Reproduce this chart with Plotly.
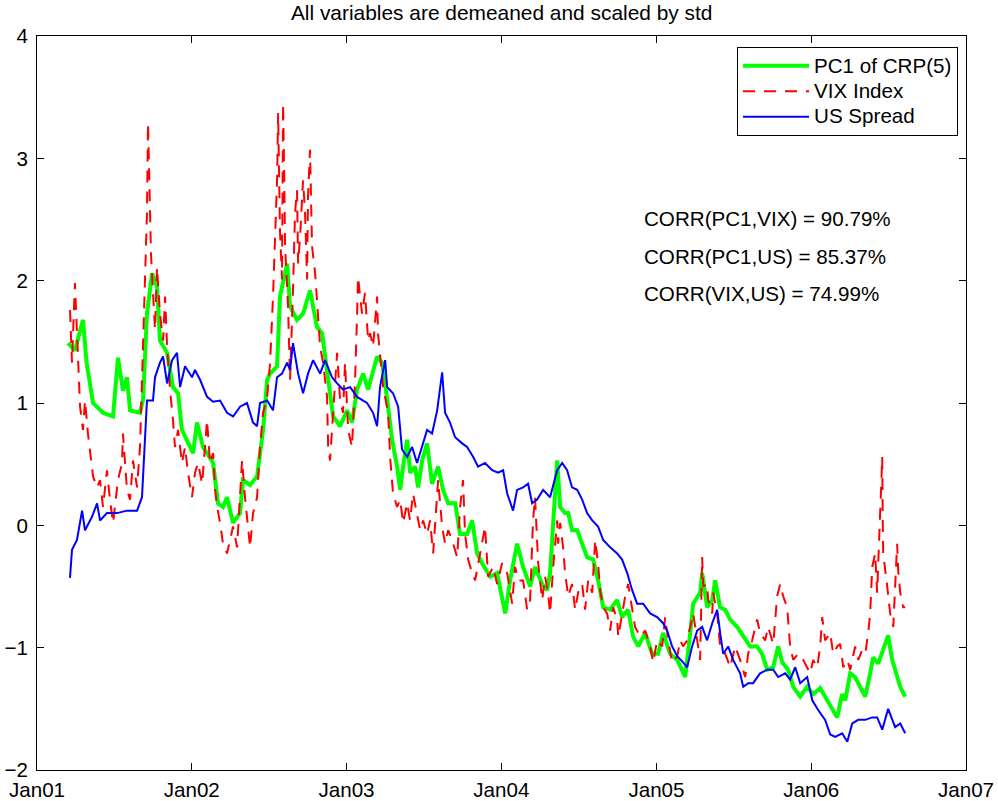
import numpy as np
import pandas as pd
import plotly.graph_objects as go

# ---------------- data (time in years since 1 Jan 2001) ----------------
pc1_t = [0.200, 0.245, 0.297, 0.320, 0.362, 0.426, 0.491, 0.523, 0.555, 0.581, 0.601, 0.665, 0.685,
         0.710, 0.743, 0.775, 0.794, 0.840, 0.878, 0.911, 0.936, 0.969, 1.008, 1.033, 1.072, 1.137,
         1.169, 1.201, 1.227, 1.266, 1.311, 1.330, 1.376, 1.421, 1.460, 1.486, 1.505, 1.550, 1.569,
         1.615, 1.634, 1.679, 1.718, 1.763, 1.808, 1.841, 1.860, 1.892, 1.912, 1.957, 2.002, 2.034,
         2.067, 2.106, 2.138, 2.196, 2.228, 2.261, 2.293, 2.325, 2.345, 2.364, 2.390, 2.409, 2.441,
         2.461, 2.487, 2.519, 2.551, 2.590, 2.622, 2.655, 2.700, 2.732, 2.777, 2.810, 2.842, 2.874,
         2.926, 2.971, 3.010, 3.023, 3.055, 3.100, 3.139, 3.184, 3.216, 3.262, 3.294, 3.313, 3.333,
         3.359, 3.378, 3.410, 3.430, 3.455, 3.488, 3.520, 3.552, 3.591, 3.623, 3.656, 3.701, 3.746,
         3.778, 3.817, 3.849, 3.882, 3.927, 3.972, 4.011, 4.043, 4.088, 4.134, 4.185, 4.218, 4.237,
         4.282, 4.295, 4.327, 4.360, 4.379, 4.411, 4.444, 4.476, 4.521, 4.560, 4.605, 4.650, 4.682,
         4.715, 4.754, 4.786, 4.812, 4.850, 4.883, 4.928, 4.973, 5.012, 5.057, 5.102, 5.141, 5.167,
         5.199, 5.219, 5.251, 5.283, 5.315, 5.348, 5.380, 5.399, 5.432, 5.464, 5.496, 5.522, 5.554,
         5.574, 5.606]
pc1_v = [1.49, 1.43, 1.68, 1.33, 1.00, 0.92, 0.89, 1.37, 1.10, 1.21, 0.94, 0.92, 1.03,
         1.73, 2.06, 1.95, 1.51, 1.41, 1.13, 1.08, 0.78, 0.70, 0.59, 0.84, 0.64, 0.51,
         0.18, 0.15, 0.23, 0.02, 0.10, 0.37, 0.33, 0.40, 0.78, 1.19, 1.24, 1.30, 1.87,
         2.14, 1.79, 1.68, 1.73, 1.92, 1.62, 1.57, 1.38, 1.03, 0.89, 0.81, 0.94, 0.84,
         1.11, 1.24, 1.11, 1.38, 1.33, 1.03, 0.70, 0.48, 0.29, 0.48, 0.70, 0.43, 0.48,
         0.31, 0.53, 0.67, 0.34, 0.48, 0.29, 0.18, 0.18, -0.07, -0.07, 0.04, -0.23, -0.31,
         -0.42, -0.39, -0.61, -0.72, -0.45, -0.15, -0.34, -0.50, -0.34, -0.48, -0.53, -0.39, 0.02,
         0.53, 0.15, 0.10, 0.10, -0.04, -0.04, -0.15, -0.26, -0.28, -0.45, -0.67, -0.69, -0.61,
         -0.75, -0.69, -0.91, -0.99, -0.88, -1.05, -1.05, -0.88, -1.05, -1.10, -1.24, -0.88, -0.64,
         -0.55, -0.39, -0.67, -0.61, -0.45, -0.67, -0.69, -0.77, -0.83, -0.91, -0.99, -0.99, -1.05,
         -1.18, -1.16, -0.99, -1.12, -1.18, -1.32, -1.40, -1.32, -1.38, -1.33, -1.43, -1.51, -1.57,
         -1.38, -1.43, -1.21, -1.24, -1.32, -1.40, -1.21, -1.08, -1.13, -1.02, -0.90, -1.10, -1.24,
         -1.32, -1.40]

vix_t = [0.213, 0.226, 0.245, 0.258, 0.265, 0.278, 0.297, 0.310, 0.329, 0.342, 0.362, 0.388, 0.407,
         0.426, 0.452, 0.471, 0.491, 0.523, 0.549, 0.555, 0.581, 0.601, 0.620, 0.646, 0.665, 0.678,
         0.698, 0.710, 0.717, 0.730, 0.736, 0.749, 0.762, 0.775, 0.794, 0.814, 0.827, 0.840, 0.859,
         0.878, 0.891, 0.911, 0.936, 0.956, 0.975, 1.001, 1.020, 1.040, 1.066, 1.098, 1.117, 1.137,
         1.150, 1.163, 1.182, 1.201, 1.227, 1.247, 1.266, 1.292, 1.324, 1.343, 1.376, 1.395, 1.421,
         1.440, 1.460, 1.486, 1.505, 1.524, 1.537, 1.550, 1.557, 1.569, 1.582, 1.589, 1.596, 1.602,
         1.621, 1.634, 1.653, 1.666, 1.679, 1.686, 1.699, 1.718, 1.731, 1.744, 1.750, 1.763, 1.776,
         1.796, 1.808, 1.815, 1.828, 1.847, 1.873, 1.880, 1.892, 1.912, 1.938, 1.957, 1.976, 1.989,
         2.009, 2.034, 2.054, 2.067, 2.073, 2.099, 2.118, 2.138, 2.151, 2.170, 2.196, 2.202, 2.228,
         2.235, 2.267, 2.280, 2.299, 2.325, 2.345, 2.364, 2.390, 2.409, 2.428, 2.454, 2.474, 2.493,
         2.519, 2.538, 2.558, 2.590, 2.616, 2.635, 2.655, 2.680, 2.713, 2.732, 2.751, 2.764, 2.784,
         2.810, 2.829, 2.861, 2.893, 2.913, 2.945, 2.971, 3.003, 3.036, 3.068, 3.087, 3.107, 3.139,
         3.165, 3.184, 3.197, 3.203, 3.216, 3.229, 3.236, 3.262, 3.281, 3.300, 3.313, 3.333, 3.359,
         3.365, 3.378, 3.397, 3.410, 3.430, 3.455, 3.475, 3.494, 3.520, 3.539, 3.559, 3.585, 3.604,
         3.623, 3.636, 3.656, 3.681, 3.701, 3.720, 3.746, 3.753, 3.778, 3.798, 3.817, 3.843, 3.862,
         3.895, 3.927, 3.959, 3.979, 4.004, 4.037, 4.056, 4.075, 4.101, 4.134, 4.153, 4.172, 4.198,
         4.218, 4.237, 4.263, 4.282, 4.295, 4.302, 4.327, 4.334, 4.360, 4.366, 4.392, 4.411, 4.444,
         4.476, 4.508, 4.540, 4.573, 4.592, 4.618, 4.650, 4.669, 4.702, 4.721, 4.754, 4.779, 4.799,
         4.818, 4.844, 4.863, 4.883, 4.915, 4.947, 4.992, 5.012, 5.038, 5.057, 5.070, 5.089, 5.122,
         5.141, 5.167, 5.186, 5.206, 5.232, 5.251, 5.283, 5.303, 5.328, 5.348, 5.367, 5.380, 5.393,
         5.412, 5.425, 5.432, 5.458, 5.461, 5.464, 5.490, 5.509, 5.529, 5.554, 5.561, 5.574, 5.593,
         5.606]
vix_v = [1.76, 1.33, 1.98, 1.57, 1.33, 0.97, 0.78, 1.02, 0.75, 0.62, 0.40, 0.31, 0.37,
         0.15, 0.45, 0.21, 0.02, 0.37, 0.51, 0.75, 0.29, 0.21, 0.53, 0.31, 0.64, 1.19,
         2.14, 2.55, 3.29, 2.69, 2.22, 1.90, 1.60, 2.11, 1.73, 1.51, 1.87, 1.46, 1.11,
         0.86, 0.64, 0.78, 0.51, 0.64, 0.43, 0.23, 0.43, 0.51, 0.34, 0.86, 0.51, 0.59,
         0.29, 0.15, 0.02, -0.15, -0.23, -0.12, -0.01, -0.18, 0.53, 0.23, -0.18, 0.10, 0.23,
         0.64, 0.92, 1.05, 1.33, 1.87, 2.28, 2.82, 3.37, 2.41, 2.01, 3.45, 2.88, 2.28,
         1.79, 1.19, 1.92, 2.55, 2.74, 2.14, 2.36, 2.82, 2.55, 2.01, 2.69, 3.07, 2.28,
         2.06, 1.84, 1.70, 1.46, 1.33, 1.05, 0.64, 0.53, 0.92, 1.41, 1.02, 0.92, 1.33,
         0.78, 0.64, 1.19, 1.73, 2.03, 1.73, 1.90, 1.51, 1.57, 1.46, 1.87, 1.57, 1.24,
         1.13, 0.92, 0.56, 0.26, 0.15, 0.21, 0.02, 0.18, 0.04, 0.26, 0.10, -0.04, 0.04,
         -0.07, 0.04, -0.23, 0.37, -0.01, -0.15, -0.04, -0.12, -0.26, 0.15, 0.37, -0.07, -0.28,
         -0.39, -0.45, -0.23, -0.01, -0.42, -0.34, -0.48, -0.31, -0.39, -0.64, -0.34, -0.45, -0.45,
         -0.69, -0.61, -0.18, 0.04, 0.23, -0.07, -0.31, -0.61, -0.42, -0.55, -0.72, -0.34, 0.04,
         -0.15, 0.02, -0.18, -0.39, -0.58, -0.48, -0.69, -0.55, -0.48, -0.69, -0.45, -0.55, -0.12,
         -0.31, -0.53, -0.67, -0.72, -0.86, -0.67, -0.77, -0.91, -0.72, -0.58, -0.48, -0.67, -0.83,
         -0.91, -0.86, -0.99, -1.12, -0.94, -0.99, -0.75, -0.94, -1.12, -1.07, -0.94, -0.99, -0.94,
         -0.83, -0.72, -0.94, -1.10, -0.26, -0.50, -0.48, -0.61, -0.72, -0.55, -0.72, -0.99, -1.05,
         -1.16, -0.99, -1.10, -1.24, -1.05, -0.94, -0.77, -0.88, -0.94, -0.83, -0.97, -0.58, -0.48,
         -0.58, -0.67, -0.99, -1.10, -1.05, -1.10, -1.21, -1.10, -1.16, -0.99, -0.75, -0.94, -0.88,
         -1.05, -0.99, -0.97, -1.16, -1.10, -1.18, -0.99, -1.10, -1.02, -1.05, -0.88, -0.72, -0.34,
         -0.23, -0.55, -0.31, 0.56, 0.04, -0.23, -0.50, -0.72, -0.83, -0.15, -0.37, -0.55, -0.67,
         -0.67]

us_t = [0.213, 0.226, 0.258, 0.291, 0.310, 0.355, 0.388, 0.407, 0.452, 0.517, 0.581, 0.646, 0.678,
        0.710, 0.749, 0.762, 0.794, 0.814, 0.840, 0.872, 0.904, 0.924, 0.956, 1.001, 1.020, 1.053,
        1.098, 1.137, 1.182, 1.227, 1.266, 1.311, 1.356, 1.395, 1.421, 1.440, 1.486, 1.524, 1.550,
        1.582, 1.615, 1.634, 1.653, 1.686, 1.718, 1.750, 1.783, 1.828, 1.860, 1.905, 1.938, 1.976,
        2.022, 2.067, 2.106, 2.131, 2.170, 2.196, 2.215, 2.248, 2.261, 2.299, 2.332, 2.357, 2.390,
        2.422, 2.454, 2.487, 2.519, 2.551, 2.584, 2.616, 2.635, 2.667, 2.700, 2.745, 2.777, 2.816,
        2.848, 2.893, 2.939, 2.977, 3.010, 3.036, 3.074, 3.100, 3.139, 3.171, 3.197, 3.229, 3.268,
        3.313, 3.359, 3.391, 3.423, 3.455, 3.488, 3.520, 3.552, 3.585, 3.623, 3.656, 3.701, 3.746,
        3.778, 3.811, 3.843, 3.875, 3.914, 3.959, 4.004, 4.043, 4.069, 4.101, 4.134, 4.172, 4.198,
        4.230, 4.263, 4.295, 4.327, 4.360, 4.392, 4.411, 4.431, 4.463, 4.495, 4.540, 4.560, 4.592,
        4.624, 4.669, 4.715, 4.754, 4.786, 4.831, 4.863, 4.896, 4.928, 4.973, 5.006, 5.044, 5.089,
        5.122, 5.154, 5.199, 5.232, 5.264, 5.303, 5.348, 5.393, 5.425, 5.458, 5.496, 5.541, 5.574,
        5.606]
us_v = [-0.43, -0.20, -0.12, 0.12, -0.04, 0.07, 0.18, 0.04, 0.10, 0.10, 0.12, 0.12, 0.23,
        1.02, 1.02, 1.21, 1.33, 1.38, 1.16, 1.35, 1.41, 1.13, 1.30, 1.21, 1.27, 1.19,
        1.05, 1.01, 1.02, 0.92, 0.89, 0.97, 1.00, 0.84, 0.81, 1.00, 1.02, 0.94, 1.21,
        1.24, 1.33, 1.27, 1.49, 1.24, 1.08, 1.24, 1.35, 1.24, 1.35, 1.21, 1.16, 1.11,
        1.13, 1.05, 1.02, 1.00, 0.92, 0.81, 1.13, 1.35, 1.13, 1.08, 0.97, 0.62, 0.56,
        0.64, 0.51, 0.64, 0.78, 0.75, 0.94, 1.25, 0.92, 0.84, 0.72, 0.67, 0.64, 0.56,
        0.48, 0.51, 0.45, 0.43, 0.45, 0.26, 0.12, 0.29, 0.31, 0.34, 0.18, 0.21, 0.29,
        0.23, 0.45, 0.51, 0.45, 0.31, 0.29, 0.21, 0.10, 0.04, -0.01, -0.12, -0.18, -0.23,
        -0.28, -0.39, -0.53, -0.64, -0.64, -0.72, -0.75, -0.80, -0.86, -0.99, -1.07, -1.12, -1.16,
        -0.99, -0.86, -0.83, -0.94, -0.80, -0.69, -0.88, -1.05, -0.99, -1.10, -1.21, -1.32, -1.29,
        -1.29, -1.21, -1.18, -1.18, -1.24, -1.21, -1.26, -1.16, -1.29, -1.24, -1.43, -1.51, -1.59,
        -1.71, -1.73, -1.70, -1.77, -1.62, -1.59, -1.59, -1.57, -1.57, -1.67, -1.50, -1.65, -1.62,
        -1.70]

series_names = ["PC1 of CRP(5)", "VIX Index", "US Spread"]
tick_dates = ["2001-01-01", "2002-01-01", "2003-01-01", "2004-01-01",
              "2005-01-01", "2006-01-01", "2007-01-01"]
tick_labels = ["Jan01", "Jan02", "Jan03", "Jan04", "Jan05", "Jan06", "Jan07"]
y_ticks = [-2, -1, 0, 1, 2, 3, 4]
corr_texts = ["CORR(PC1,VIX) = 90.79%", "CORR(PC1,US) = 85.37%", "CORR(VIX,US) = 74.99%"]
title_text = "All variables are demeaned and scaled by std"

BASE = pd.Timestamp("2001-01-01")


def to_dates(t):
    return BASE + pd.to_timedelta(np.asarray(t) * 365.25, unit="D")


FONT = "Liberation Sans, Arial, Helvetica, sans-serif"
FS = 20.6
LEG_FS = 17.3  # controls legend row spacing; text itself drawn at FS


def leg_name(s):
    return '<span style="font-size:%.1fpx">%s</span>' % (FS, s)


fig = go.Figure()
fig.add_trace(go.Scatter(x=to_dates(pc1_t), y=pc1_v, mode="lines", name=leg_name(series_names[0]),
                         line=dict(color="#00FF00", width=4)))
fig.add_trace(go.Scatter(x=to_dates(vix_t), y=vix_v, mode="lines", name=leg_name(series_names[1]),
                         line=dict(color="#FF0000", width=2, dash="12px,9px")))
fig.add_trace(go.Scatter(x=to_dates(us_t), y=us_v, mode="lines", name=leg_name(series_names[2]),
                         line=dict(color="#0000FF", width=2)))

ann = []
for i, txt in enumerate(corr_texts):
    ann.append(dict(text=txt, xref="paper", yref="paper", x=0.651, y=[0.752, 0.700, 0.649][i],
                    xanchor="left", yanchor="middle", showarrow=False,
                    font=dict(family=FONT, size=FS, color="black")))

fig.update_layout(
    width=998, height=801,
    margin=dict(l=37, r=32, t=36, b=31, autoexpand=False),
    paper_bgcolor="white", plot_bgcolor="white",
    font=dict(family=FONT, size=FS, color="black"),
    title=dict(text=title_text, x=0.5027, xanchor="center", y=0.9844, yanchor="middle",
               font=dict(family=FONT, size=20.9, color="black")),
    showlegend=True,
    legend=dict(x=0.9914, xanchor="right", y=0.985, yanchor="top",
                bordercolor="black", borderwidth=1, bgcolor="white",
                font=dict(family=FONT, size=LEG_FS), itemwidth=66, tracegroupgap=0),
    annotations=ann,
    xaxis=dict(type="date", range=[tick_dates[0], tick_dates[-1]],
               tickmode="array", tickvals=tick_dates, ticktext=tick_labels,
               showgrid=False, zeroline=False, showline=True, linecolor="black", linewidth=1,
               mirror="ticks", ticks="inside", ticklen=7, tickcolor="black", automargin=False,
               ticklabelstandoff=1),
    yaxis=dict(range=[-2, 4], tickmode="array", tickvals=y_ticks,
               showgrid=False, zeroline=False, showline=True, linecolor="black", linewidth=1,
               mirror="ticks", ticks="inside", ticklen=7, tickcolor="black",
               ticklabelstandoff=4, automargin=False),
)

# remove the browser's default 8px page margin so the 998x801 figure fills the window exactly
fig.write_html("out.html", config={"displayModeBar": False},
               post_script="document.body.style.margin='0px';")
